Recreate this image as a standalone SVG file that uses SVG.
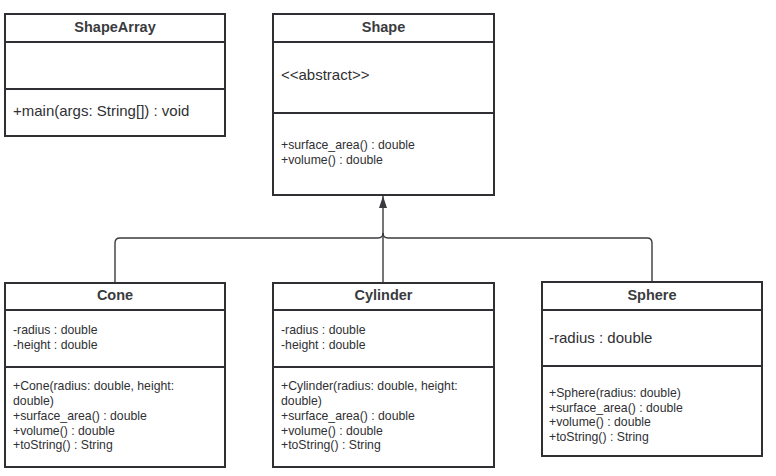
<svg xmlns="http://www.w3.org/2000/svg" width="776" height="476" viewBox="0 0 776 476">
<style>
.box{fill:#ffffff;stroke:#2f3033;stroke-width:2}
.div{stroke:#2f3033;stroke-width:2;fill:none}
.title{font-family:"Liberation Sans",Arial,sans-serif;font-size:14.5px;font-weight:bold;fill:#3a3b3e;text-anchor:middle}
.big{font-family:"Liberation Sans",Arial,sans-serif;font-size:15px;fill:#2f3033}
.sm{font-family:"Liberation Sans",Arial,sans-serif;font-size:12.25px;fill:#2f3033}
.conn{fill:none;stroke:#3a3b3e;stroke-width:1.4}
</style>
<defs>
<marker id="arrow" viewBox="0 0 12 8" refX="12" refY="4" markerWidth="12" markerHeight="8" markerUnits="userSpaceOnUse" orient="auto">
<path d="M0,0 L12,4 L0,8 z" fill="#3a3b3e"/>
</marker>
</defs>
<g id="connectors">
<path class="conn" d="M115,283 V243 Q115,238 120,238 H378 Q383,238 383,233"/>
<path class="conn" d="M652,282 V243 Q652,238 647,238 H388 Q383,238 383,233"/>
<path class="conn" d="M383,283 V196" marker-end="url(#arrow)"/>
</g>
<g id="ShapeArray">
<rect class="box" x="5" y="14" width="220" height="122"/>
<line class="div" x1="5" y1="42" x2="225" y2="42"/>
<line class="div" x1="5" y1="89" x2="225" y2="89"/>
<text class="title" x="115" y="32">ShapeArray</text>
<text class="big" x="13" y="116">+main(args: String[]) : void</text>
</g>
<g id="Shape">
<rect class="box" x="273" y="14" width="221" height="181"/>
<line class="div" x1="273" y1="42" x2="494" y2="42"/>
<line class="div" x1="273" y1="113" x2="494" y2="113"/>
<text class="title" x="383.5" y="32">Shape</text>
<text class="big" x="281" y="80">&lt;&lt;abstract&gt;&gt;</text>
<text class="sm" x="281" y="149">+surface_area() : double</text>
<text class="sm" x="281" y="163.5">+volume() : double</text>
</g>
<g id="Cone">
<rect class="box" x="5" y="283" width="220" height="184"/>
<line class="div" x1="5" y1="310" x2="225" y2="310"/>
<line class="div" x1="5" y1="367" x2="225" y2="367"/>
<text class="title" x="115" y="300">Cone</text>
<text class="sm" x="13" y="333.5">-radius : double</text>
<text class="sm" x="13" y="348.5">-height : double</text>
<text class="sm" x="13" y="390">+Cone(radius: double, height:</text>
<text class="sm" x="13" y="405">double)</text>
<text class="sm" x="13" y="420">+surface_area() : double</text>
<text class="sm" x="13" y="434.5">+volume() : double</text>
<text class="sm" x="13" y="449">+toString() : String</text>
</g>
<g id="Cylinder">
<rect class="box" x="273" y="283" width="221" height="184"/>
<line class="div" x1="273" y1="310" x2="494" y2="310"/>
<line class="div" x1="273" y1="367" x2="494" y2="367"/>
<text class="title" x="383.5" y="300">Cylinder</text>
<text class="sm" x="281" y="333.5">-radius : double</text>
<text class="sm" x="281" y="348.5">-height : double</text>
<text class="sm" x="281" y="390">+Cylinder(radius: double, height:</text>
<text class="sm" x="281" y="405">double)</text>
<text class="sm" x="281" y="420">+surface_area() : double</text>
<text class="sm" x="281" y="434.5">+volume() : double</text>
<text class="sm" x="281" y="449">+toString() : String</text>
</g>
<g id="Sphere">
<rect class="box" x="542" y="282" width="220" height="174"/>
<line class="div" x1="542" y1="310" x2="762" y2="310"/>
<line class="div" x1="542" y1="366" x2="762" y2="366"/>
<text class="title" x="652" y="300">Sphere</text>
<text class="big" x="549" y="343">-radius : double</text>
<text class="sm" x="549" y="397">+Sphere(radius: double)</text>
<text class="sm" x="549" y="411.5">+surface_area() : double</text>
<text class="sm" x="549" y="426">+volume() : double</text>
<text class="sm" x="549" y="440.5">+toString() : String</text>
</g>
</svg>
